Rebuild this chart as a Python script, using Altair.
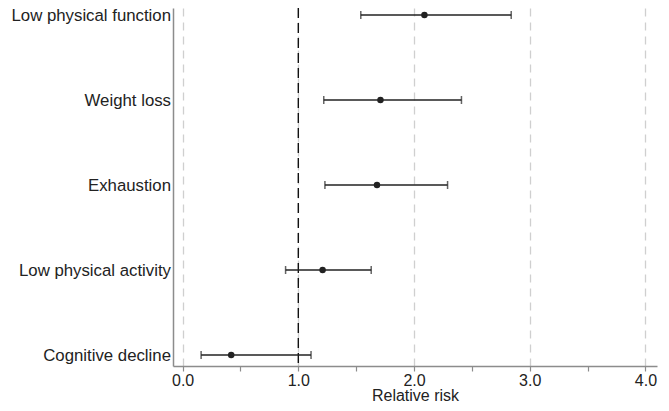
import altair as alt
import pandas as pd

outcomes = ["Low physical function", "Weight loss", "Exhaustion",
            "Low physical activity", "Cognitive decline"]
rr = [2.09, 1.71, 1.68, 1.21, 0.42]
ci_low = [1.54, 1.22, 1.23, 0.89, 0.16]
ci_high = [2.84, 2.41, 2.29, 1.63, 1.11]
x_ticks = [0.0, 0.5, 1.0, 1.5, 2.0, 2.5, 3.0, 3.5, 4.0]
null_value = [1.0]

df = pd.DataFrame({"outcome": outcomes, "rr": rr, "lo": ci_low, "hi": ci_high})
ref = pd.DataFrame({"v": null_value})

FONT = "Liberation Sans"
TXT = "#222222"
AX = "#8c8c8c"

xscale = alt.Scale(domain=[-0.083, 4.1], nice=False, zero=False)
xaxis = alt.Axis(
    values=x_ticks, format=".1f",
    labelExpr="datum.value % 1 === 0 ? datum.label : ''",
    title="Relative risk", titleFont=FONT, titleFontSize=16, titleFontWeight="normal",
    titleColor=TXT, titleBaseline="alphabetic", titleY=34,
    labelFont=FONT, labelFontSize=16, labelColor=TXT, labelBaseline="alphabetic",
    labelPadding=14, labelFlush=False,
    tickSize=5, tickColor=AX, tickWidth=1.2,
    domainColor=AX, domainWidth=1.5,
    grid=True, gridColor="#cfcfcf", gridDash=[8, 6], gridWidth=1.3,
    gridOpacity={"condition": {"test": "datum.value % 1 !== 0", "value": 0}, "value": 1},
)
yenc = alt.Y(
    "outcome:N", sort=outcomes,
    scale=alt.Scale(type="point", padding=0.106, align=0.39),
    axis=alt.Axis(title=None, ticks=False, grid=False, domainColor=AX, domainWidth=1.5,
                  labelFont=FONT, labelFontSize=16.8, labelColor=TXT, labelPadding=2.5,
                  labelLimit=400),
)

base = alt.Chart(df)

ci = base.mark_rule(color=TXT, strokeWidth=1.4).encode(
    x=alt.X("lo:Q", scale=xscale, axis=xaxis), x2="hi:Q", y=yenc)
cap_lo = base.mark_tick(color=TXT, size=8, thickness=1.5).encode(
    x=alt.X("lo:Q", scale=xscale, axis=xaxis), y=yenc)
cap_hi = base.mark_tick(color=TXT, size=8, thickness=1.5).encode(
    x=alt.X("hi:Q", scale=xscale, axis=xaxis), y=yenc)
pts = base.mark_point(filled=True, color=TXT, size=42, opacity=1).encode(
    x=alt.X("rr:Q", scale=xscale, axis=xaxis), y=yenc)
null_rule = alt.Chart(ref).mark_rule(color="#111111", strokeDash=[10, 5], strokeWidth=1.4).encode(
    x=alt.X("v:Q", scale=xscale, axis=xaxis))

chart = alt.layer(null_rule, ci, cap_lo, cap_hi, pts).properties(
    width=484, height=358,
    padding={"left": 165, "top": 0, "right": 4, "bottom": 36},
    autosize=alt.AutoSizeParams(type="none"),
).configure_view(stroke=None)

chart.save("out.html", embed_options={"renderer": "svg", "actions": False})
